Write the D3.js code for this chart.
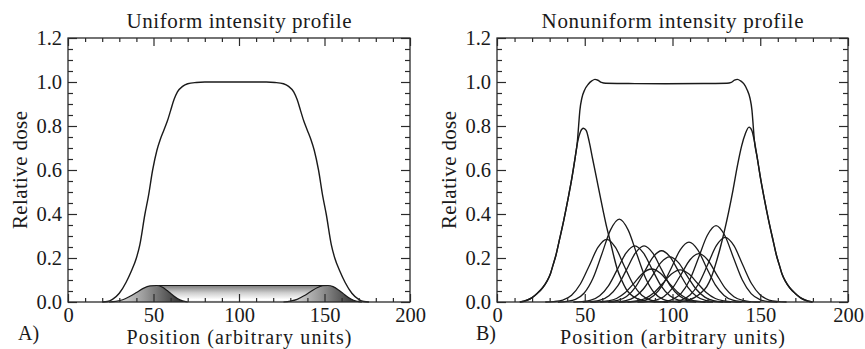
<!DOCTYPE html>
<html><head><meta charset="utf-8">
<script src="https://cdn.jsdelivr.net/npm/d3@7"></script>
<style>
body{margin:0;background:#fff}
svg{display:block}
text{font-family:"Liberation Serif","Times New Roman",serif;fill:#1a1a1a}
</style>
</head><body><svg id="c" width="865" height="349"></svg>
<script>
// ---------- DATA ----------
const xMajorTicks = [0, 50, 100, 150, 200];
const xMinorTicks = [10,20,30,40,60,70,80,90,110,120,130,140,160,170,180,190];
const yMajorTicks = [0, 0.2, 0.4, 0.6, 0.8, 1.0, 1.2];
const yMinorTicks = [0.05,0.1,0.15,0.25,0.3,0.35,0.45,0.5,0.55,0.65,0.7,0.75,0.85,0.9,0.95,1.05,1.1,1.15];
const panelTitles = ["Uniform intensity profile", "Nonuniform intensity profile"];
const panelLetters = ["A)", "B)"];
const xLabel = "Position (arbitrary units)";
const yLabel = "Relative dose";

// Panel A: uniform intensity
const uniformTotal = [[20,0],[23,0.002],[26,0.012],[30,0.04],[34,0.09],[37,0.14],[40,0.2],[42,0.26],[45,0.4],[47,0.48],[49.5,0.6],[52,0.69],[54,0.74],[56,0.78],[58,0.82],[60,0.87],[62,0.92],[64,0.955],[67,0.98],[70,0.992],[75,0.998],[80,1.0],[116,1.0],[121,0.998],[126,0.992],[129,0.98],[132,0.955],[134,0.92],[136,0.87],[138,0.82],[140,0.78],[142,0.74],[144,0.69],[146.5,0.6],[149,0.48],[151,0.4],[154,0.26],[156,0.2],[159,0.14],[162,0.09],[166,0.04],[170,0.012],[173,0.002],[176,0]];
const uniformBumpLeft = [[24,0],[28,0.003],[32,0.01],[36,0.025],[40,0.043],[44,0.062],[48,0.073],[52,0.075],[55,0.068],[58,0.052],[61,0.033],[64,0.016],[67,0.005],[70,0]];
const uniformBumpRight = [[126,0],[130,0.004],[134,0.012],[138,0.028],[142,0.048],[146,0.066],[149,0.074],[152,0.075],[155,0.07],[158,0.056],[161,0.038],[164,0.02],[167,0.008],[170,0.002],[172,0]];
const uniformBand = [[51,0.075],[151,0.075]];

// Panel B: nonuniform intensity
const nonuniformTotal = [[13,0],[17,0.008],[20,0.02],[23,0.04],[26,0.065],[28.5,0.095],[30.5,0.13],[32,0.17],[33.5,0.21],[35.5,0.28],[38,0.37],[40.5,0.47],[42.8,0.57],[44.6,0.66],[45.8,0.73],[46.5,0.8],[47.2,0.87],[48.3,0.925],[50,0.965],[52,0.99],[54,1.005],[55.8,1.012],[57.5,1.008],[59.5,0.998],[62,0.994],[75,0.993],[96,0.992],[118,0.993],[131,0.994],[133.5,0.998],[135.3,1.008],[137,1.012],[138.8,1.005],[140.8,0.99],[142.5,0.965],[144.2,0.925],[145.3,0.87],[146,0.8],[146.7,0.73],[148.2,0.66],[150,0.57],[152.3,0.47],[154.8,0.37],[157.3,0.28],[159.3,0.21],[160.8,0.17],[162.3,0.13],[164.3,0.095],[166.8,0.065],[169.8,0.04],[172.8,0.02],[175.8,0.008],[179.8,0]];
const nonuniformEdgeLeft = [[13,0],[17,0.008],[20,0.02],[23,0.04],[26,0.065],[28.5,0.095],[30.5,0.13],[32,0.17],[33.5,0.21],[35.5,0.28],[38,0.37],[40.5,0.47],[42.8,0.57],[44.6,0.66],[46,0.73],[47.6,0.775],[49.2,0.79],[50.8,0.78],[52.5,0.73],[54.5,0.65],[56.8,0.56],[58.8,0.48],[60.6,0.41],[62.5,0.34],[64.4,0.28],[66.5,0.21],[68.5,0.15],[71,0.1],[73.5,0.06],[76,0.035],[80,0.015],[85,0.004],[90,0]];
const nonuniformEdgeRight = [[103,0],[108,0.006],[112.5,0.02],[116,0.04],[119.5,0.07],[122,0.11],[124.5,0.17],[127,0.24],[129.5,0.32],[132,0.41],[134.5,0.51],[137,0.62],[139.4,0.71],[141.5,0.765],[143.6,0.795],[145.2,0.78],[146.7,0.73],[148.2,0.66],[150,0.57],[152.3,0.47],[154.8,0.37],[157.3,0.28],[159.3,0.21],[160.8,0.17],[162.3,0.13],[164.3,0.095],[166.8,0.065],[169.8,0.04],[172.8,0.02],[175.8,0.008],[179.8,0]];
const nonuniformBeamlets = [
  [[27.5,0],[32.5,0.002],[37.5,0.009],[42.5,0.031],[47.5,0.082],[52.5,0.164],[57.5,0.248],[62.5,0.285],[67.5,0.248],[72.5,0.164],[77.5,0.082],[82.5,0.031],[87.5,0.009],[92.5,0.002],[97.5,0]],
  [[34.7,0],[39.7,0.003],[44.7,0.012],[49.7,0.041],[54.7,0.108],[59.7,0.217],[64.7,0.328],[69.7,0.377],[74.7,0.328],[79.7,0.217],[84.7,0.108],[89.7,0.041],[94.7,0.012],[99.7,0.003],[104.7,0]],
  [[43.5,0],[48.5,0.002],[53.5,0.008],[58.5,0.028],[63.5,0.073],[68.5,0.147],[73.5,0.222],[78.5,0.255],[83.5,0.222],[88.5,0.147],[93.5,0.073],[98.5,0.028],[103.5,0.008],[108.5,0.002],[113.5,0]],
  [[48.8,0],[53.8,0.002],[58.8,0.008],[63.8,0.028],[68.8,0.073],[73.8,0.147],[78.8,0.222],[83.8,0.255],[88.8,0.222],[93.8,0.147],[98.8,0.073],[103.8,0.028],[108.8,0.008],[113.8,0.002],[118.8,0]],
  [[53.1,0],[58.1,0.001],[63.1,0.005],[68.1,0.016],[73.1,0.043],[78.1,0.086],[83.1,0.131],[88.1,0.15],[93.1,0.131],[98.1,0.086],[103.1,0.043],[108.1,0.016],[113.1,0.005],[118.1,0.001],[123.1,0]],
  [[58.8,0],[63.8,0.002],[68.8,0.007],[73.8,0.025],[78.8,0.067],[83.8,0.134],[88.8,0.203],[93.8,0.233],[98.8,0.203],[103.8,0.134],[108.8,0.067],[113.8,0.025],[118.8,0.007],[123.8,0.002],[128.8,0]],
  [[63.4,0],[68.4,0.001],[73.4,0.006],[78.4,0.022],[83.4,0.059],[88.4,0.118],[93.4,0.179],[98.4,0.205],[103.4,0.179],[108.4,0.118],[113.4,0.059],[118.4,0.022],[123.4,0.006],[128.4,0.001],[133.4,0]],
  [[69.4,0],[74.4,0.001],[79.4,0.005],[84.4,0.016],[89.4,0.042],[94.4,0.084],[99.4,0.127],[104.4,0.146],[109.4,0.127],[114.4,0.084],[119.4,0.042],[124.4,0.016],[129.4,0.005],[134.4,0.001],[139.4,0]],
  [[74.4,0],[79.4,0.002],[84.4,0.008],[89.4,0.03],[94.4,0.078],[99.4,0.156],[104.4,0.237],[109.4,0.272],[114.4,0.237],[119.4,0.156],[124.4,0.078],[129.4,0.03],[134.4,0.008],[139.4,0.002],[144.4,0]],
  [[80,0],[85,0.001],[90,0.007],[95,0.024],[100,0.063],[105,0.127],[110,0.192],[115,0.22],[120,0.192],[125,0.127],[130,0.063],[135,0.024],[140,0.007],[145,0.001],[150,0]],
  [[89.8,0],[94.8,0.002],[99.8,0.011],[104.8,0.038],[109.8,0.1],[114.8,0.2],[119.8,0.302],[124.8,0.347],[129.8,0.302],[134.8,0.2],[139.8,0.1],[144.8,0.038],[149.8,0.011],[154.8,0.002],[159.8,0]],
  [[95,0],[100,0.002],[105,0.009],[110,0.032],[115,0.084],[120,0.169],[125,0.256],[130,0.294],[135,0.256],[140,0.169],[145,0.084],[150,0.032],[155,0.009],[160,0.002],[165,0]]
];

// ---------- LAYOUT ----------
const svg = d3.select("#c");
const defs = svg.append("defs");
const panels = [
  {x0:68, x1:410, letterX:18, yLabelX:27, titleW:225, xLabW:225},
  {x0:497, x1:848, letterX:476, yLabelX:456, titleW:262, xLabW:225}
];
const yTop = 38, yBot = 302;
const ink = "#1a1a1a";
const serif = '"Liberation Serif","Times New Roman",serif';

const gBand = defs.append("linearGradient").attr("id","gBand").attr("x1",0).attr("y1",0).attr("x2",0).attr("y2",1);
gBand.append("stop").attr("offset","0%").attr("stop-color","#7c7c7c");
gBand.append("stop").attr("offset","45%").attr("stop-color","#cfcfcf");
gBand.append("stop").attr("offset","85%").attr("stop-color","#ffffff");
gBand.append("stop").attr("offset","100%").attr("stop-color","#ececec");
const gBump = defs.append("linearGradient").attr("id","gBump").attr("x1",0).attr("y1",0).attr("x2",1).attr("y2",0);
gBump.append("stop").attr("offset","0%").attr("stop-color","#f2f2f2");
gBump.append("stop").attr("offset","45%").attr("stop-color","#9a9a9a");
gBump.append("stop").attr("offset","100%").attr("stop-color","#1e1e1e");

function drawPanel(i){
  const p = panels[i];
  const x = d3.scaleLinear().domain([0,200]).range([p.x0,p.x1]);
  const y = d3.scaleLinear().domain([0,1.2]).range([yBot,yTop]);
  const g = svg.append("g");
  const line = d3.line().x(d=>x(d[0])).y(d=>y(d[1])).curve(d3.curveMonotoneX);
  const area = d3.area().x(d=>x(d[0])).y0(y(0)).y1(d=>y(d[1])).curve(d3.curveMonotoneX);
  const plot = g.append("g");

  if(i===0){
    plot.append("path").datum(uniformBand).attr("d",area).attr("fill","url(#gBand)").attr("stroke","none");
    plot.append("path").datum(uniformBand).attr("d",line).attr("fill","none").attr("stroke",ink).attr("stroke-width",1.2);
    [uniformBumpLeft, uniformBumpRight].forEach(b=>{
      plot.append("path").datum(b).attr("d",area).attr("fill","url(#gBump)").attr("stroke","none");
      plot.append("path").datum(b).attr("d",line).attr("fill","none").attr("stroke",ink).attr("stroke-width",1.2);
    });
    plot.append("path").datum(uniformTotal).attr("d",line).attr("fill","none").attr("stroke",ink).attr("stroke-width",1.4);
  } else {
    nonuniformBeamlets.forEach(b=>{
      plot.append("path").datum(b).attr("d",line).attr("fill","none").attr("stroke",ink).attr("stroke-width",1.3);
    });
    [nonuniformEdgeLeft, nonuniformEdgeRight, nonuniformTotal].forEach(b=>{
      plot.append("path").datum(b).attr("d",line).attr("fill","none").attr("stroke",ink).attr("stroke-width",1.4);
    });
  }

  const styleAxis = sel => {
    sel.select(".domain").remove();
    sel.selectAll(".tick line").attr("stroke","#2a2a2a").attr("stroke-width",1.2);
    sel.selectAll("text").attr("font-family",serif).attr("font-size",20.5).attr("fill",ink);
  };
  g.append("g").attr("transform",`translate(0,${yBot})`)
    .call(d3.axisBottom(x).tickValues(xMajorTicks).tickSize(-8).tickPadding(5).tickFormat(d3.format("d"))).call(styleAxis);
  g.append("g").attr("transform",`translate(0,${yBot})`)
    .call(d3.axisBottom(x).tickValues(xMinorTicks).tickSize(-4).tickFormat("")).call(styleAxis);
  g.append("g").attr("transform",`translate(0,${yTop})`)
    .call(d3.axisTop(x).tickValues(xMajorTicks).tickSize(-8).tickFormat("")).call(styleAxis);
  g.append("g").attr("transform",`translate(0,${yTop})`)
    .call(d3.axisTop(x).tickValues(xMinorTicks).tickSize(-4).tickFormat("")).call(styleAxis);
  g.append("g").attr("transform",`translate(${p.x0},0)`)
    .call(d3.axisLeft(y).tickValues(yMajorTicks).tickSize(-9).tickPadding(6).tickFormat(d3.format(".1f"))).call(styleAxis);
  g.append("g").attr("transform",`translate(${p.x0},0)`)
    .call(d3.axisLeft(y).tickValues(yMinorTicks).tickSize(-5).tickFormat("")).call(styleAxis);
  g.append("g").attr("transform",`translate(${p.x1},0)`)
    .call(d3.axisRight(y).tickValues(yMajorTicks).tickSize(-9).tickFormat("")).call(styleAxis);
  g.append("g").attr("transform",`translate(${p.x1},0)`)
    .call(d3.axisRight(y).tickValues(yMinorTicks).tickSize(-5).tickFormat("")).call(styleAxis);

  g.append("rect").attr("x",p.x0).attr("y",yTop).attr("width",p.x1-p.x0).attr("height",yBot-yTop)
    .attr("fill","none").attr("stroke","#2a2a2a").attr("stroke-width",1.3);

  g.append("text").attr("x",(p.x0+p.x1)/2).attr("y",28).attr("text-anchor","middle").attr("font-size",21)
    .attr("textLength",p.titleW).attr("lengthAdjust","spacing").text(panelTitles[i]);
  g.append("text").attr("x",(p.x0+p.x1)/2).attr("y",344).attr("text-anchor","middle").attr("font-size",20)
    .attr("textLength",p.xLabW).attr("lengthAdjust","spacing").text(xLabel);
  g.append("text").attr("transform",`translate(${p.yLabelX},${(yTop+yBot)/2}) rotate(-90)`).attr("text-anchor","middle").attr("font-size",21)
    .attr("textLength",118).attr("lengthAdjust","spacing").text(yLabel);
  g.append("text").attr("x",p.letterX).attr("y",340).attr("font-size",20).text(panelLetters[i]);
}
drawPanel(0);
drawPanel(1);
</script>
</body></html>
